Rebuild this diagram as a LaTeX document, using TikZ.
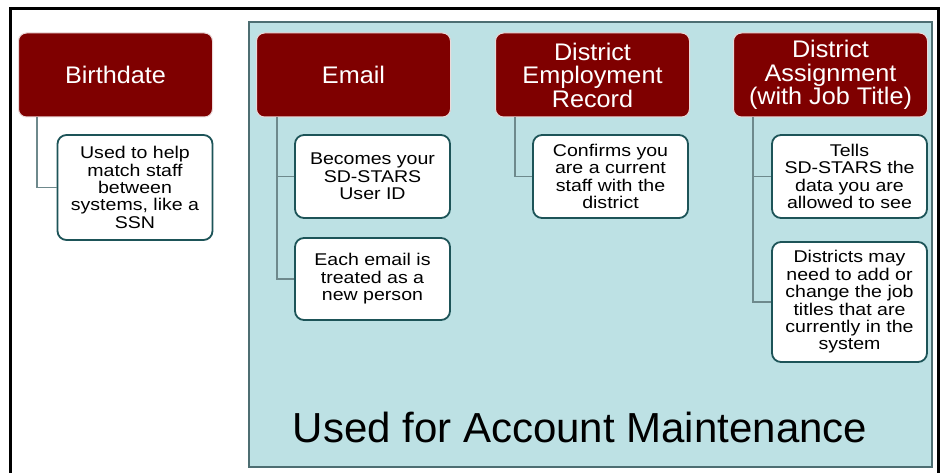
\documentclass[tikz,border=0pt]{standalone}
\usepackage{fontspec}
\setmainfont{Liberation Sans}
\newfontfamily\childfont[FakeStretch=1.15]{Liberation Sans}
\newfontfamily\hdrfont[FakeStretch=1.05]{Liberation Sans}
\definecolor{maroon}{HTML}{7F0000}
\definecolor{panelblue}{HTML}{BDE1E4}
\definecolor{panelborder}{HTML}{4D6E72}
\definecolor{childborder}{HTML}{1D5458}
\definecolor{connline}{HTML}{6E898C}
\tikzset{
  hdr/.style={draw=white!85!maroon, line width=1pt, fill=maroon, rounded corners=8pt,
    minimum width=194pt, minimum height=84pt, text=white, align=center,
    font=\hdrfont\fontsize{24}{23.5}\selectfont, inner sep=2pt},
  child/.style={draw=childborder, line width=1.8pt, fill=white, rounded corners=9pt,
    minimum width=155pt, text=black, align=center,
    font=\childfont\fontsize{17}{17.4}\selectfont, inner sep=2pt},
  conn/.style={draw=connline, line width=1.6pt},
}
\begin{document}
\begin{tikzpicture}[x=1pt,y=-1pt]
\useasboundingbox (0,0) rectangle (947,473);
\clip (0,0) rectangle (947,473);
\fill[white] (0,0) rectangle (947,473);
% outer frame
\draw[black, line width=3pt] (10,9) rectangle (938,490);
% panel
\draw[panelborder, line width=1.6pt, fill=panelblue] (249,22) rectangle (932,467);
% headers
\node[hdr] (bd) at (115.5,75) {Birthdate};
\node[hdr] (em) at (353.5,75) {Email};
\node[hdr] (dr) at (592.5,75) {District\\Employment\\Record};
\node[hdr] (da) at (830.5,75) {District\\Assignment\\(with Job Title)};
% children
\node[child, minimum height=105pt] (bdc) at (135,187.5) {Used to help\\match staff\\between\\systems, like a\\SSN};
\node[child, minimum height=83pt] (e1) at (372.5,176.5) {Becomes your\\SD-STARS\\User ID};
\node[child, minimum height=82pt] (e2) at (372.5,279) {Each email is\\treated as a\\new person};
\node[child, minimum height=83pt] (d1) at (610.5,176.5) {Confirms you\\are a current\\staff with the\\district};
\node[child, minimum height=83pt] (a1) at (849.5,176.5) {Tells\\SD-STARS the\\data you are\\allowed to see};
\node[child, minimum height=120pt] (a2) at (849.5,302) {Districts may\\need to add or\\change the job\\titles that are\\currently in the\\system};
% connectors
\draw[conn] ([xshift=19pt]bd.south west) |- (bdc.west);
\draw[conn] ([xshift=21pt]em.south west) |- (e1.west);
\draw[conn] ([xshift=21pt]em.south west) |- (e2.west);
\draw[conn] ([xshift=20pt]dr.south west) |- (d1.west);
\draw[conn] ([xshift=20pt]da.south west) |- (a1.west);
\draw[conn] ([xshift=20pt]da.south west) |- (a2.west);
% caption
\node[font=\fontsize{42}{42}\selectfont, text=black] (cap) at (580,427) {Used for Account Maintenance};
\end{tikzpicture}
\end{document}
